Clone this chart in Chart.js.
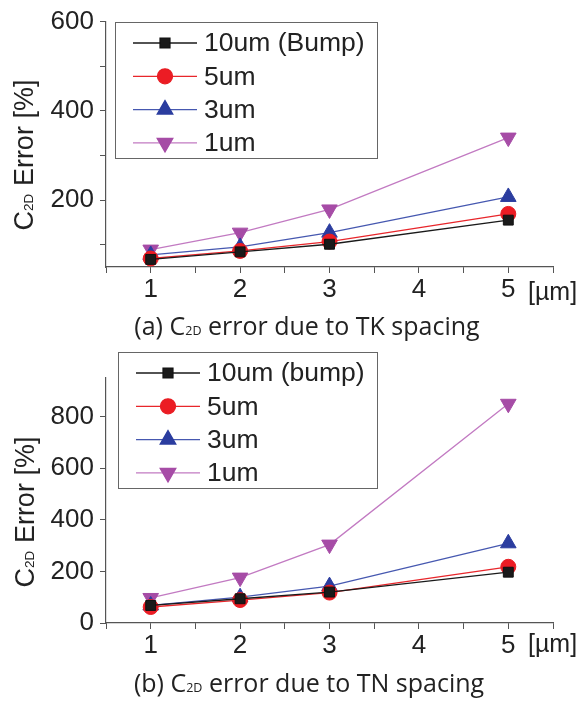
<!DOCTYPE html>
<html>
<head>
<meta charset="utf-8">
<script src="https://cdn.jsdelivr.net/npm/chart.js@4.4.1/dist/chart.umd.min.js"></script>
<style>
  body { margin: 0; background: #fff; width: 588px; height: 703px; position: relative; overflow: hidden; }
  canvas { position: absolute; left: 0; }
  .ylab { position: absolute; font-family: "Liberation Sans", Arial, sans-serif; font-size: 27px; color: #222;
          white-space: nowrap; transform: translate(-50%, -50%) rotate(-90deg); }
  .ylab sub, .cap sub { font-size: 50%; vertical-align: 0; }
  .unit { position: absolute; font-family: "Liberation Sans", Arial, sans-serif; font-size: 25px; color: #222; line-height: 30px; }
  .cap { position: absolute; font-family: "Open Sans", sans-serif; font-size: 25px; color: #222; white-space: nowrap;
         transform: translate(-50%, -50%); line-height: 30px; }
</style>
</head>
<body>
<canvas id="tk" width="588" height="340" style="top:0"></canvas>
<canvas id="tn" width="588" height="363" style="top:340px"></canvas>
<div class="ylab" style="left:24px; top:155px">C<sub>2D</sub> Error [%]</div>
<div class="ylab" style="left:25px; top:512px">C<sub>2D</sub> Error [%]</div>
<div class="unit" style="left:528px; top:276px">[µm]</div>
<div class="unit" style="left:528px; top:628px">[µm]</div>
<div class="cap" style="left:307px; top:328px">(a) C<sub>2D</sub> error due to TK spacing</div>
<div class="cap" style="left:309px; top:685px">(b) C<sub>2D</sub> error due to TN spacing</div>
<script>
// spacing values [um]
var spacing = [1, 2, 3, 5];

// (a) TK spacing
var tk10 = [67, 84, 101, 155];
var tk5 = [69, 86, 107, 169];
var tk3 = [77, 95, 127, 207];
var tk1 = [89, 127, 179, 340];

// (b) TN spacing
var tn10 = [68, 94, 120, 197];
var tn5 = [62, 89, 118, 218];
var tn3 = [68, 100, 143, 309];
var tn1 = [97, 176, 304, 850];

var xTickLabels = ['1', '2', '3', '4', '5'];
var tkYLabels = [200, 400, 600];
var tnYLabels = [0, 200, 400, 600, 800];

var tickFont = { family: 'Liberation Sans, Arial, sans-serif', size: 26 };

function pts(ys) {
    return spacing.map(function (x, i) { return { x: x, y: ys[i] }; });
}

function makeSets(s10, s5, s3, s1, firstLabel) {
    return [{
        label: firstLabel, data: pts(s10),
        borderColor: '#1a1a1a', backgroundColor: '#1a1a1a', borderWidth: 1.3,
        pointStyle: 'rect', pointRadius: 7, pointBorderWidth: 1, pointBorderColor: '#111', pointBackgroundColor: '#1a1a1a'
    }, {
        label: '5um', data: pts(s5),
        borderColor: '#e8262b', backgroundColor: '#e8262b', borderWidth: 1.3,
        pointStyle: 'circle', pointRadius: 7.5, pointBorderWidth: 1, pointBorderColor: '#e81e24', pointBackgroundColor: '#ec1c24'
    }, {
        label: '3um', data: pts(s3),
        borderColor: '#4658b0', backgroundColor: '#2b3d9f', borderWidth: 1.3,
        pointStyle: 'triangle', pointRadius: 9, pointBorderWidth: 1, pointBorderColor: '#2b3d9f', pointBackgroundColor: '#2b3d9f'
    }, {
        label: '1um', data: pts(s1),
        borderColor: '#c27ac2', backgroundColor: '#a64ca6', borderWidth: 1.3,
        pointStyle: 'triangle', pointRotation: 180, pointRadius: 9, pointBorderWidth: 1, pointBorderColor: '#a64ca6', pointBackgroundColor: '#a64ca6'
    }];
}

// legend with a frame, line + marker per series
var boxLegend = {
    id: 'boxLegend',
    afterDraw: function (chart, args, o) {
        var ctx = chart.ctx;
        ctx.save();
        ctx.strokeStyle = '#666';
        ctx.lineWidth = 1;
        ctx.strokeRect(o.x + 0.5, o.y + 0.5, o.w, o.h);
        ctx.font = '26.5px "Liberation Sans", Arial, sans-serif';
        ctx.textBaseline = 'middle';
        chart.data.datasets.forEach(function (ds, i) {
            var y = o.y + o.rowTop + i * o.rowGap;
            ctx.strokeStyle = ds.borderColor;
            ctx.lineWidth = ds.borderWidth;
            ctx.beginPath();
            ctx.moveTo(o.x + 18, y);
            ctx.lineTo(o.x + 82, y);
            ctx.stroke();
            ctx.fillStyle = ds.pointBackgroundColor;
            ctx.strokeStyle = ds.pointBorderColor;
            Chart.helpers.drawPoint(ctx, {
                pointStyle: ds.pointStyle, rotation: ds.pointRotation || 0,
                radius: ds.pointRadius, borderWidth: 1
            }, o.x + 50, y);
            ctx.fillStyle = '#222';
            ctx.fillText(ds.label, o.x + 89, y + 1);
        });
        ctx.restore();
    }
};

function makeOptions(yMin, yMax, yLabels, xHeight, top, legendBox) {
    return {
        responsive: false,
        animation: false,
        layout: { padding: { top: top, right: 35, left: 0, bottom: 0 } },
        plugins: { legend: { display: false }, tooltip: { enabled: false }, boxLegend: legendBox },
        scales: {
            x: {
                type: 'linear', min: 0.5, max: 5.5,
                afterBuildTicks: function (s) {
                    s.ticks = [];
                    for (var v = 0.5; v <= 5.5; v += 0.5) s.ticks.push({ value: v });
                },
                afterFit: function (s) { s.height = xHeight; },
                ticks: {
                    font: tickFont, color: '#222', padding: 1, maxRotation: 0,
                    callback: function (v) {
                        var i = xTickLabels.indexOf(String(v));
                        return i >= 0 ? xTickLabels[i] : '';
                    }
                },
                grid: { drawOnChartArea: false, tickLength: 6, tickColor: '#555' },
                border: { color: '#555', width: 1.2 }
            },
            y: {
                min: yMin, max: yMax,
                afterBuildTicks: function (s) {
                    s.ticks = [];
                    for (var v = Math.ceil(yMin / 100) * 100; v <= yMax; v += 100) {
                        if (v > yMin || yMin === 0) s.ticks.push({ value: v });
                    }
                },
                afterFit: function (s) { s.width = 106; },
                ticks: {
                    font: tickFont, color: '#222', padding: 6,
                    callback: function (v) { return yLabels.indexOf(v) >= 0 ? String(v) : ''; }
                },
                grid: { drawOnChartArea: false, tickLength: 6, tickColor: '#555' },
                border: { color: '#555', width: 1.2 }
            }
        }
    };
}

new Chart(document.getElementById('tk').getContext('2d'), {
    type: 'line',
    data: { datasets: makeSets(tk10, tk5, tk3, tk1, '10um (Bump)') },
    options: makeOptions(50, 600, tkYLabels, 340 - 267, 21,
        { x: 115, y: 22, w: 262, h: 136, rowTop: 21, rowGap: 33.3 }),
    plugins: [boxLegend]
});

new Chart(document.getElementById('tn').getContext('2d'), {
    type: 'line',
    data: { datasets: makeSets(tn10, tn5, tn3, tn1, '10um (bump)') },
    options: makeOptions(0, 950, tnYLabels, 363 - 283, 38,
        { x: 118, y: 12, w: 259, h: 136, rowTop: 21, rowGap: 33.3 }),
    plugins: [boxLegend]
});
</script>
</body>
</html>
